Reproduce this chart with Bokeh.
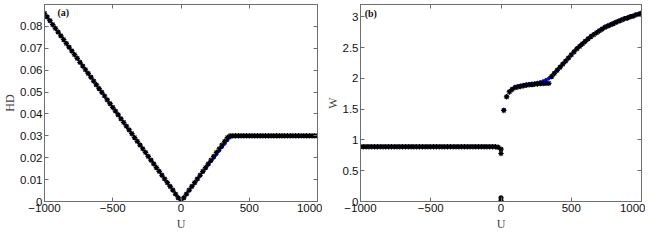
from bokeh.plotting import figure
from bokeh.models import Range1d, FixedTicker, LinearAxis, Label, Title, CustomLabelingPolicy
from bokeh.layouts import row
from bokeh.embed import file_html
from bokeh.resources import INLINE

U = [-1000, -980, -960, -940, -920, -900, -880, -860, -840, -820,
     -800, -780, -760, -740, -720, -700, -680, -660, -640, -620,
     -600, -580, -560, -540, -520, -500, -480, -460, -440, -420,
     -400, -380, -360, -340, -320, -300, -280, -260, -240, -220,
     -200, -180, -160, -140, -120, -100, -80, -60, -40, -20,
     0,
     20, 40, 60, 80, 100, 120, 140, 160, 180, 200,
     220, 240, 260, 280, 300, 320, 340, 360, 380, 400,
     420, 440, 460, 480, 500, 520, 540, 560, 580, 600,
     620, 640, 660, 680, 700, 720, 740, 760, 780, 800,
     820, 840, 860, 880, 900, 920, 940, 960, 980, 1000]

HD_star = [0.0860, 0.0843, 0.0826, 0.0808, 0.0791, 0.0774, 0.0757, 0.0740, 0.0722, 0.0705,
           0.0688, 0.0671, 0.0654, 0.0636, 0.0619, 0.0602, 0.0585, 0.0568, 0.0550, 0.0533,
           0.0516, 0.0499, 0.0482, 0.0464, 0.0447, 0.0430, 0.0413, 0.0396, 0.0378, 0.0361,
           0.0344, 0.0327, 0.0310, 0.0292, 0.0275, 0.0258, 0.0241, 0.0224, 0.0206, 0.0189,
           0.0172, 0.0155, 0.0138, 0.0120, 0.0103, 0.0086, 0.0069, 0.0052, 0.0034, 0.0017,
           0.0000,
           0.0017, 0.0034, 0.0052, 0.0069, 0.0086, 0.0103, 0.0120, 0.0138, 0.0155, 0.0172,
           0.0189, 0.0206, 0.0224, 0.0241, 0.0258, 0.0275, 0.0292, 0.0300, 0.0300, 0.0300,
           0.0300, 0.0300, 0.0300, 0.0300, 0.0300, 0.0300, 0.0300, 0.0300, 0.0300, 0.0300,
           0.0300, 0.0300, 0.0300, 0.0300, 0.0300, 0.0300, 0.0300, 0.0300, 0.0300, 0.0300,
           0.0300, 0.0300, 0.0300, 0.0300, 0.0300, 0.0300, 0.0300, 0.0300, 0.0300, 0.0300]

HD_blue = [0.0860, 0.0843, 0.0826, 0.0808, 0.0791, 0.0774, 0.0757, 0.0740, 0.0722, 0.0705,
           0.0688, 0.0671, 0.0654, 0.0636, 0.0619, 0.0602, 0.0585, 0.0568, 0.0550, 0.0533,
           0.0516, 0.0499, 0.0482, 0.0464, 0.0447, 0.0430, 0.0413, 0.0396, 0.0378, 0.0361,
           0.0344, 0.0327, 0.0310, 0.0292, 0.0275, 0.0258, 0.0241, 0.0224, 0.0206, 0.0189,
           0.0172, 0.0155, 0.0138, 0.0120, 0.0103, 0.0086, 0.0069, 0.0052, 0.0034, 0.0017,
           0.0000,
           0.0017, 0.0034, 0.0051, 0.0068, 0.0085, 0.0101, 0.0118, 0.0135, 0.0151, 0.0168,
           0.0184, 0.0200, 0.0216, 0.0232, 0.0248, 0.0264, 0.0280, 0.0293, 0.0298, 0.0300,
           0.0300, 0.0300, 0.0300, 0.0300, 0.0300, 0.0300, 0.0300, 0.0300, 0.0300, 0.0300,
           0.0300, 0.0300, 0.0300, 0.0300, 0.0300, 0.0300, 0.0300, 0.0300, 0.0300, 0.0300,
           0.0300, 0.0300, 0.0300, 0.0300, 0.0300, 0.0300, 0.0300, 0.0300, 0.0300, 0.0300]

W_star = [0.89, 0.89, 0.89, 0.89, 0.89, 0.89, 0.89, 0.89, 0.89, 0.89,
          0.89, 0.89, 0.89, 0.89, 0.89, 0.89, 0.89, 0.89, 0.89, 0.89,
          0.89, 0.89, 0.89, 0.89, 0.89, 0.89, 0.89, 0.89, 0.89, 0.89,
          0.89, 0.89, 0.89, 0.89, 0.89, 0.89, 0.89, 0.89, 0.89, 0.89,
          0.89, 0.89, 0.89, 0.89, 0.89, 0.89, 0.89, 0.89, 0.89, 0.88,
          0.85,
          1.48, 1.70, 1.78, 1.82, 1.85, 1.86, 1.87, 1.88, 1.89, 1.895,
          1.90, 1.905, 1.91, 1.915, 1.915, 1.92, 1.92, 2.03, 2.08, 2.13,
          2.18, 2.23, 2.28, 2.33, 2.38, 2.43, 2.48, 2.52, 2.56, 2.60,
          2.64, 2.68, 2.71, 2.74, 2.77, 2.80, 2.83, 2.85, 2.87, 2.89,
          2.91, 2.93, 2.95, 2.97, 2.98, 3.00, 3.01, 3.03, 3.04, 3.06]

W_blue = [0.89, 0.89, 0.89, 0.89, 0.89, 0.89, 0.89, 0.89, 0.89, 0.89,
          0.89, 0.89, 0.89, 0.89, 0.89, 0.89, 0.89, 0.89, 0.89, 0.89,
          0.89, 0.89, 0.89, 0.89, 0.89, 0.89, 0.89, 0.89, 0.89, 0.89,
          0.89, 0.89, 0.89, 0.89, 0.89, 0.89, 0.89, 0.89, 0.89, 0.89,
          0.89, 0.89, 0.89, 0.89, 0.89, 0.89, 0.89, 0.89, 0.89, 0.88,
          0.02,
          1.49, 1.71, 1.79, 1.83, 1.86, 1.875, 1.885, 1.895, 1.905, 1.91,
          1.915, 1.92, 1.93, 1.94, 1.955, 1.975, 2.00, 2.04, 2.09, 2.14,
          2.19, 2.24, 2.29, 2.34, 2.39, 2.44, 2.49, 2.53, 2.57, 2.61,
          2.65, 2.69, 2.72, 2.75, 2.78, 2.81, 2.84, 2.86, 2.88, 2.90,
          2.92, 2.94, 2.96, 2.98, 2.99, 3.01, 3.02, 3.04, 3.05, 3.07]

# extra W samples at U = 0 (the drop to zero)
W0_U = [0, 0, 0]
W0_star = [0.78, 0.06, 0.01]

X_TICKS = [-1000, -500, 0, 500, 1000]
X_LABELS = ["\u22121000", "\u2212500", "0", "500", "1000"]
HD_TICKS = [0, 0.01, 0.02, 0.03, 0.04, 0.05, 0.06, 0.07, 0.08]
HD_LABELS = ["0", "0.01", "0.02", "0.03", "0.04", "0.05", "0.06", "0.07", "0.08"]
W_TICKS = [0, 0.5, 1, 1.5, 2, 2.5, 3]
W_LABELS = ["0", "0.5", "1", "1.5", "2", "2.5", "3"]

FRAME = "#6e6e6e"
TICKFONT = "Liberation Sans"
LABELFONT = "Liberation Serif"


def style_axis(ax, ticks, labels, show_labels=True):
    ax.ticker = FixedTicker(ticks=ticks)
    ax.major_label_overrides = {t: l for t, l in zip(ticks, labels)}
    ax.major_tick_in = 4
    ax.major_tick_out = 0
    ax.minor_tick_line_color = None
    ax.axis_line_color = FRAME
    ax.major_tick_line_color = FRAME
    ax.major_label_text_font = TICKFONT
    ax.major_label_text_color = "#111111"
    if show_labels:
        ax.major_label_text_font_size = "11.5px"
        ax.major_label_standoff = 2
    else:
        ax.major_label_text_font_size = "1px"
        ax.major_label_standoff = 0
        ax.major_label_policy = CustomLabelingPolicy(
            code="for (const i of indices) indices.unset(i); return indices")
    ax.axis_label_text_font = LABELFONT
    ax.axis_label_text_font_style = "normal"
    ax.axis_label_text_font_size = "12px"
    ax.axis_label_text_color = "#444444"
    ax.axis_label_standoff = 0


def make_fig(width, ymax, yticks, ylabels, ylab, bl, br):
    p = figure(width=width, height=230, x_range=Range1d(-1000, 1000),
               y_range=Range1d(0, ymax), output_backend="svg",
               toolbar_location=None, min_border_left=bl, min_border_right=br,
               min_border_top=0, min_border_bottom=0)
    p.grid.visible = False
    p.outline_line_color = FRAME
    p.background_fill_color = "white"
    p.border_fill_color = "white"
    style_axis(p.xaxis[0], X_TICKS, X_LABELS)
    style_axis(p.yaxis[0], yticks, ylabels)
    p.yaxis.axis_label = ylab
    top = LinearAxis()
    style_axis(top, X_TICKS, X_LABELS, show_labels=False)
    right = LinearAxis()
    style_axis(right, yticks, ylabels, show_labels=False)
    p.add_layout(top, "above")
    p.add_layout(right, "right")
    p.add_layout(Title(text="U", align="center", text_font=LABELFONT,
                       text_font_size="12px", text_font_style="normal",
                       text_color="#444444", standoff=0, offset=0), "below")
    return p


p1 = make_fig(322, 0.09, HD_TICKS, HD_LABELS, "HD", 10, 4)
p1.line(U, HD_blue, line_color="#0000ff", line_width=1.2)
p1.scatter(U, HD_blue, marker="circle", size=3, color="#0000ff")
p1.scatter(U, HD_star, marker="asterisk", size=5.5, line_color="black", line_width=1.2)
p1.add_layout(Label(x=-905, y=0.0865, text="(a)", text_font=LABELFONT,
                    text_font_style="bold", text_font_size="10px",
                    text_baseline="middle", text_color="#111111"))

p2 = make_fig(323, 3.2, W_TICKS, W_LABELS, "W", 38, 2)
p2.scatter(U, W_blue, marker="circle", size=3, color="#0000ff")
p2.scatter(U, W_star, marker="asterisk", size=5.5, line_color="black", line_width=1.2)
p2.scatter(W0_U, W0_star, marker="asterisk", size=5.5, line_color="black", line_width=1.2)
p2.add_layout(Label(x=-970, y=3.06, text="(b)", text_font=LABELFONT,
                    text_font_style="bold", text_font_size="10px",
                    text_baseline="middle", text_color="#111111"))

layout = row(p1, p2)
open("out.html", "w").write(file_html(layout, INLINE))
